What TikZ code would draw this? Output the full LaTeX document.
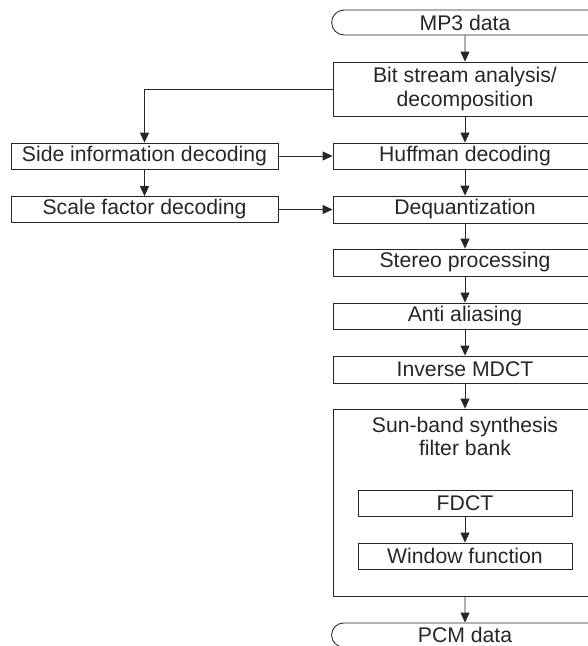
\documentclass[tikz,border=0pt]{standalone}
\usepackage{fontspec}
\setmainfont{Liberation Sans}
\usetikzlibrary{arrows.meta,shapes.misc}
\tikzset{
	blk/.style={draw, line width=0.3mm, rectangle, minimum width=264pt, minimum height=27pt, inner sep=0pt, align=center},
	sideblk/.style={blk, minimum width=267pt},
	inblk/.style={blk, minimum width=214pt},
	term/.style={blk, rounded rectangle, rounded rectangle right arc=none, minimum height=25pt},
	arr/.style={line width=0.3mm, -{Triangle[length=10pt,width=9pt]}}
}

\begin{document}
\begin{tikzpicture}[x=1pt, y=-1pt, font=\fontsize{21.2}{23.5}\selectfont, color=black!85]
			%%%%% START %%%%%
			
			\useasboundingbox (0, 0) rectangle (588, 646);
			
			% main column
			\node[term] (mp3) at (465, 22.5) {MP3 data};
			\node[blk, minimum height=54pt] (bit) at (465, 89) {Bit stream analysis/\\decomposition};
			\node[blk, minimum height=26pt] (huff) at (465, 156) {Huffman decoding};
			\node[blk] (deq) at (465, 209.5) {Dequantization};
			\node[blk] (stereo) at (465, 262.5) {Stereo processing};
			\node[blk, minimum height=26pt] (alias) at (465, 316) {Anti aliasing};
			\node[blk] (imdct) at (465, 369.5) {Inverse MDCT};
			
			% synthesis filter bank with its two inner steps
			\node[blk, minimum height=187pt] (synth) at (465, 502.5) {};
			\node[align=center, inner sep=0pt] (synthname) at (465, 436.5) {Sun-band synthesis\\filter bank};
			\node[inblk, minimum height=26pt] (fdct) at (465, 503) {FDCT};
			\node[inblk, minimum height=26pt] (win) at (465, 556) {Window function};
			
			\node[term, minimum height=24pt] (pcm) at (465, 635) {PCM data};
			
			% side column
			\node[sideblk, minimum height=26pt] (side) at (144.5, 156) {Side information decoding};
			\node[sideblk, minimum height=26pt] (scale) at (144.5, 209.5) {Scale factor decoding};
			
			% arrows
			\draw[arr] (mp3) -- (bit);
			\draw[arr] (bit) -- (huff);
			\draw[arr] (huff) -- (deq);
			\draw[arr] (deq) -- (stereo);
			\draw[arr] (stereo) -- (alias);
			\draw[arr] (alias) -- (imdct);
			\draw[arr] (imdct) -- (synth);
			\draw[arr] (fdct) -- (win);
			\draw[arr] (synth) -- (pcm);
			
			\draw[arr] (bit.west) -| (side.north);
			\draw[arr] (side) -- (scale);
			\draw[arr] (side) -- (huff);
			\draw[arr] (scale) -- (deq);
			
			%%%%% END %%%%%
\end{tikzpicture}
\end{document}
